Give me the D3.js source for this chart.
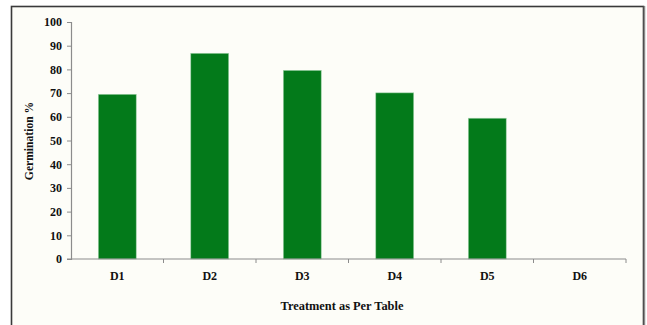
<!DOCTYPE html>
<html>
<head>
<meta charset="utf-8">
<script src="https://cdn.jsdelivr.net/npm/d3@7"></script>
<style>
  html, body { margin: 0; padding: 0; background: #ffffff; }
  svg { display: block; }
  text { font-family: "Liberation Serif", "Times New Roman", serif; font-weight: bold; fill: #111; }
</style>
</head>
<body>
<svg id="chart" width="647" height="325"></svg>
<script>
// Germination percentage per treatment
const categories = ["D1", "D2", "D3", "D4", "D5", "D6"];
const germination = [69.5, 86.8, 79.6, 70.1, 59.4, 0];
const yTicks = [0, 10, 20, 30, 40, 50, 60, 70, 80, 90, 100];
const xTitle = "Treatment as Per Table";
const yTitle = "Germination %";

const svg = d3.select("#chart");

// chart area background and frame
svg.append("rect").attr("x", 11.5).attr("y", 6.5).attr("width", 632).attr("height", 330)
  .attr("fill", "#fdfdf8").attr("stroke", "#3a3a3a").attr("stroke-width", 1.6);
svg.append("line").attr("x1", 644.5).attr("x2", 644.5).attr("y1", 6).attr("y2", 325)
  .attr("stroke", "#8a8a8a").attr("stroke-width", 1.5);

const plot = { left: 71, right: 626, top: 22, bottom: 259 };

const x = d3.scaleBand().domain(categories).range([plot.left, plot.right]).paddingInner(0.59).paddingOuter(0.295);
const xEdge = d3.scaleLinear().domain([0, categories.length]).range([plot.left, plot.right]);
const y = d3.scaleLinear().domain([0, 100]).range([plot.bottom, plot.top]);

// bars
svg.append("g").selectAll("rect").data(categories.map((c, i) => ({ c, v: germination[i] })))
  .join("rect")
  .attr("x", d => x(d.c))
  .attr("width", x.bandwidth())
  .attr("y", d => y(d.v))
  .attr("height", d => y(0) - y(d.v))
  .attr("fill", "#037a1a")
  .attr("stroke", "#9fd0a8")
  .attr("stroke-width", 0.6);

// y axis
const yAxis = d3.axisLeft(y).tickValues(yTicks).tickSize(4).tickPadding(5);
const gy = svg.append("g").attr("transform", `translate(${plot.left},0)`).call(yAxis);
gy.select(".domain").attr("stroke", "#8c8c8c").attr("stroke-width", 1.2);
gy.selectAll(".tick line").attr("stroke", "#8c8c8c");
gy.selectAll(".tick text").style("font-size", "12px").style("font-family", "Liberation Serif").style("font-weight", "bold").attr("fill", "#222");

// x axis: baseline with ticks at category boundaries
const gx = svg.append("g").attr("transform", `translate(0,${plot.bottom})`);
gx.append("line").attr("x1", plot.left - 4).attr("x2", plot.right).attr("y1", 0).attr("y2", 0)
  .attr("stroke", "#8c8c8c").attr("stroke-width", 1.2);
gx.selectAll("line.edge").data(d3.range(1, categories.length + 1)).join("line")
  .attr("class", "edge")
  .attr("x1", d => xEdge(d)).attr("x2", d => xEdge(d))
  .attr("y1", 0).attr("y2", 4).attr("stroke", "#8c8c8c");
gx.selectAll("text").data(categories).join("text")
  .attr("x", d => x(d) + x.bandwidth() / 2)
  .attr("y", 21)
  .attr("text-anchor", "middle")
  .style("font-size", "12px")
  .attr("fill", "#222")
  .text(d => d);

// axis titles
svg.append("text").attr("x", 342).attr("y", 310).attr("text-anchor", "middle")
  .style("font-size", "12.4px").text(xTitle);
svg.append("text").attr("transform", `translate(33,141) rotate(-90)`).attr("text-anchor", "middle")
  .style("font-size", "11.6px").text(yTitle);
</script>
</body>
</html>
